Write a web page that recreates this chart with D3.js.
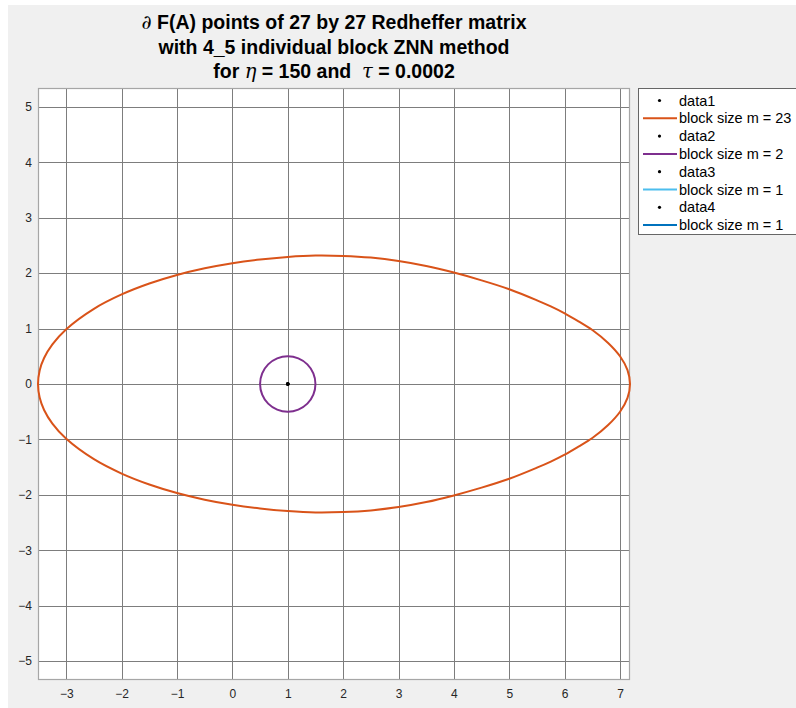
<!DOCTYPE html>
<html>
<head>
<meta charset="utf-8">
<script src="https://cdn.jsdelivr.net/npm/d3@7"></script>
<style>
  html, body { margin: 0; padding: 0; background: #ffffff; }
  svg { display: block; }
  text { font-family: "Liberation Sans", Arial, Helvetica, sans-serif; }
</style>
</head>
<body>
<svg id="fig" width="796" height="708"></svg>
<script>
// Boundary of the field of values, block size m = 23 (upper half, left to right)
const m23UpperX = [-3.51, -3.48, -3.4, -3.25, -3.0, -2.5, -2.0, -1.5, -1.0, -0.5, 0, 0.5, 1.0, 1.5, 2.0, 2.5, 3.0, 3.5, 4.0, 4.5, 5.0, 5.5, 5.75, 6.0, 6.25, 6.5, 6.78, 7.0, 7.135, 7.18];
const m23UpperY = [0, 0.245, 0.469, 0.715, 0.989, 1.357, 1.616, 1.813, 1.967, 2.087, 2.179, 2.246, 2.292, 2.317, 2.31, 2.28, 2.22, 2.13, 2.01, 1.87, 1.71, 1.51, 1.40, 1.275, 1.13, 0.975, 0.745, 0.50, 0.25, 0];
// lower half, right to left
const m23LowerX = [7.135, 7.0, 6.78, 6.5, 6.25, 6.0, 5.75, 5.5, 5.0, 4.5, 4.0, 3.5, 3.0, 2.5, 2.0, 1.5, 1.0, 0.5, 0, -0.5, -1.0, -1.5, -2.0, -2.5, -3.0, -3.25, -3.4, -3.48];
const m23LowerY = [-0.25, -0.50, -0.745, -0.975, -1.13, -1.275, -1.40, -1.51, -1.71, -1.87, -2.01, -2.13, -2.22, -2.28, -2.31, -2.317, -2.292, -2.246, -2.179, -2.087, -1.967, -1.813, -1.616, -1.357, -0.989, -0.715, -0.469, -0.245];

// Boundary for block size m = 2
const m2X = [1.5, 1.462, 1.354, 1.191, 1.0, 0.809, 0.646, 0.538, 0.5, 0.538, 0.646, 0.809, 1.0, 1.191, 1.354, 1.462];
const m2Y = [0, 0.191, 0.354, 0.462, 0.5, 0.462, 0.354, 0.191, 0, -0.191, -0.354, -0.462, -0.5, -0.462, -0.354, -0.191];

// Point markers (data1 ... data4)
const pointX = [1, 1, 1, 1];
const pointY = [0, 0, 0, 0];

const xTicks = [-3, -2, -1, 0, 1, 2, 3, 4, 5, 6, 7];
const yTicks = [-5, -4, -3, -2, -1, 0, 1, 2, 3, 4, 5];

const legendLabels = ["data1", "block size m = 23", "data2", "block size m = 2", "data3", "block size m = 1", "data4", "block size m = 1"];
const legendKinds = ["dot", "line", "dot", "line", "dot", "line", "dot", "line"];
const legendColors = ["#000000", "#D95319", "#000000", "#7E2F8E", "#000000", "#4DBEEE", "#000000", "#0072BD"];

const svg = d3.select("#fig");

// figure background
svg.append("rect").attr("x", 8).attr("y", 5).attr("width", 788).attr("height", 703).attr("fill", "#f0f0f0");

const L = 38, R = 630, T = 88, B = 680;
const x = d3.scaleLinear().domain([-3.51, 7.18]).range([L, R]);
const y = d3.scaleLinear().domain([-5.34, 5.34]).range([B, T]);

svg.append("rect").attr("x", L).attr("y", T).attr("width", R - L).attr("height", B - T).attr("fill", "#ffffff");

// grid
const grid = svg.append("g").attr("stroke", "#7d7d7d").attr("stroke-width", 1);
grid.selectAll("line.gx").data(xTicks).join("line")
  .attr("x1", d => Math.round(x(d)) + 0.5).attr("x2", d => Math.round(x(d)) + 0.5)
  .attr("y1", T).attr("y2", B);
grid.selectAll("line.gy").data(yTicks).join("line")
  .attr("y1", d => Math.round(y(d)) + 0.5).attr("y2", d => Math.round(y(d)) + 0.5)
  .attr("x1", L).attr("x2", R);

// axes with tick labels
const xAxis = d3.axisBottom(x).tickValues(xTicks).tickSize(0).tickPadding(9).tickFormat(d3.format("d"));
const yAxis = d3.axisLeft(y).tickValues(yTicks).tickSize(0).tickPadding(6).tickFormat(d3.format("d"));
const gx = svg.append("g").attr("transform", `translate(0,${B})`).call(xAxis);
const gy = svg.append("g").attr("transform", `translate(${L},0)`).call(yAxis);
[gx, gy].forEach(g => {
  g.select(".domain").remove();
  g.selectAll("text").attr("font-size", 12).attr("fill", "#262626")
    .attr("font-family", "'Liberation Sans', Arial, sans-serif");
});

// axes box
svg.append("rect").attr("x", L + 0.5).attr("y", T + 0.5).attr("width", R - L - 1).attr("height", B - T - 1)
  .attr("fill", "none").attr("stroke", "#a6a6a6").attr("stroke-width", 1.2);

const line = d3.line().x(d => x(d[0])).y(d => y(d[1])).curve(d3.curveCatmullRomClosed.alpha(0.5));

const m23 = m23UpperX.map((v, i) => [v, m23UpperY[i]]).concat(m23LowerX.map((v, i) => [v, m23LowerY[i]]));
const m2 = m2X.map((v, i) => [v, m2Y[i]]);

svg.append("path").attr("d", line(m23)).attr("fill", "none").attr("stroke", "#D95319").attr("stroke-width", 2);
svg.append("path").attr("d", line(m2)).attr("fill", "none").attr("stroke", "#7E2F8E").attr("stroke-width", 2);

svg.selectAll("circle.pt").data(pointX.map((v, i) => [v, pointY[i]])).join("circle")
  .attr("cx", d => x(d[0])).attr("cy", d => y(d[1])).attr("r", 1.8).attr("fill", "#000");

// title
const title = svg.append("text").attr("text-anchor", "middle").attr("font-weight", "bold")
  .attr("font-size", 19.5).attr("fill", "#000");
const tx = (L + R) / 2;
const l1 = title.append("tspan").attr("x", tx).attr("y", 29);
l1.append("tspan").attr("font-family", "'DejaVu Serif', serif").attr("font-style", "italic").attr("font-weight", "normal").text("∂");
l1.append("tspan").text(" F(A) points of 27 by 27 Redheffer matrix");
title.append("tspan").attr("x", tx).attr("y", 53.5).text("with 4_5 individual block ZNN method");
const l3 = title.append("tspan").attr("x", tx).attr("y", 78);
l3.append("tspan").text("for ");
l3.append("tspan").attr("font-family", "'DejaVu Serif', serif").attr("font-style", "italic").attr("font-weight", "normal").text("η");
l3.append("tspan").text(" = 150 and \u00a0");
l3.append("tspan").attr("font-family", "'DejaVu Serif', serif").attr("font-style", "italic").attr("font-weight", "normal").text("τ");
l3.append("tspan").text(" = 0.0002");

// legend
const lg = svg.append("g");
lg.append("rect").attr("x", 638.5).attr("y", 88.5).attr("width", 170).attr("height", 146)
  .attr("fill", "#fff").attr("stroke", "#666").attr("stroke-width", 1);
const rowY = i => 100.5 + i * 17.8;
legendLabels.forEach((lab, i) => {
  const yy = rowY(i);
  if (legendKinds[i] === "dot") {
    lg.append("circle").attr("cx", 659.5).attr("cy", yy).attr("r", 1.6).attr("fill", legendColors[i]);
  } else {
    lg.append("line").attr("x1", 643).attr("x2", 677).attr("y1", yy).attr("y2", yy)
      .attr("stroke", legendColors[i]).attr("stroke-width", 2);
  }
  lg.append("text").attr("x", 679).attr("y", yy).attr("dy", "0.35em").attr("font-size", 14.5)
    .attr("fill", "#000").text(lab);
});
</script>
</body>
</html>
